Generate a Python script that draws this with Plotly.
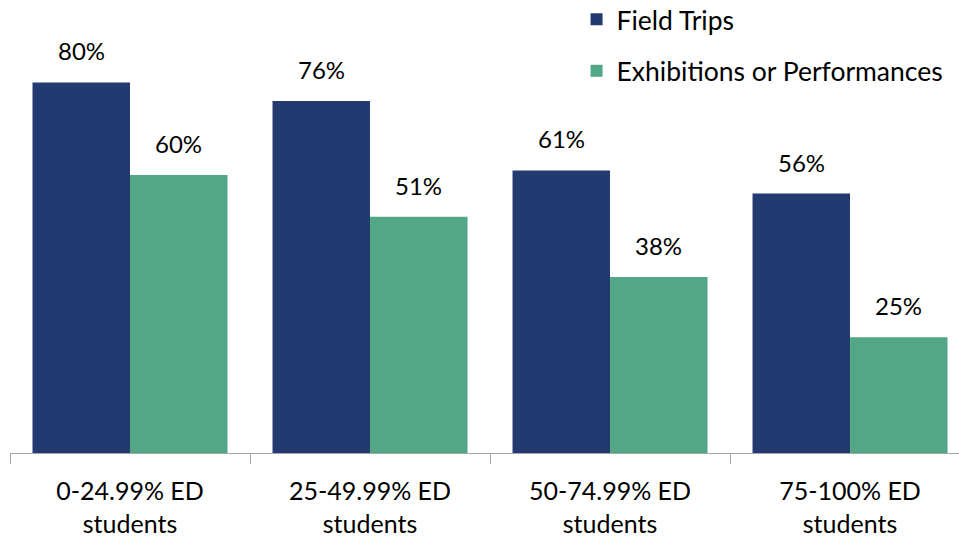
import plotly.graph_objects as go

categories = ["0-24.99% ED<br>students", "25-49.99% ED<br>students",
              "50-74.99% ED<br>students", "75-100% ED<br>students"]
field_trips = [80, 76, 61, 56]
exhibitions = [60, 51, 38, 25]
series_names = ["Field Trips", "Exhibitions or Performances"]
colors = ["#233A70", "#52A786"]

FONT = "Lato"

fig = go.Figure()
for name, vals, col, grp in zip(series_names, [field_trips, exhibitions], colors, ["a", "b"]):
    fig.add_trace(go.Bar(x=categories, y=vals, name=name, marker_color=col,
                         marker_line_width=0, legendgroup=grp))

annotations = []
for vals, shift in [(field_trips, -48.75), (exhibitions, 48.75)]:
    for c, v in zip(categories, vals):
        annotations.append(dict(x=c, y=v, text=f"{v}%", showarrow=False,
                                xshift=shift, yshift=15, yanchor="bottom",
                                font=dict(size=24, color="#000000", family=FONT)))

fig.update_layout(
    width=959, height=542,
    margin=dict(l=10, r=0, t=0, b=89, autoexpand=False),
    plot_bgcolor="white", paper_bgcolor="white",
    barmode="group", bargap=0.1875, bargroupgap=0,
    font=dict(family=FONT, size=24, color="#000000"),
    showlegend=True,
    legend=dict(x=0.597, y=1.01, xref="paper", yref="paper", xanchor="left", yanchor="top",
                font=dict(size=26.5, family=FONT), tracegroupgap=14,
                bgcolor="rgba(0,0,0,0)", itemwidth=30),
    annotations=annotations,
    xaxis=dict(range=[-0.5, 3.454], showline=True, linecolor="#A6A6A6", linewidth=1,
               ticks="outside", tickson="boundaries", ticklen=10, tickcolor="#A6A6A6",
               ticklabelstandoff=16, automargin=False,
               tickfont=dict(size=25, family=FONT), showgrid=False),
    yaxis=dict(range=[0, 97.8], visible=False, showgrid=False, automargin=False),
)

fig.write_html("out.html")
